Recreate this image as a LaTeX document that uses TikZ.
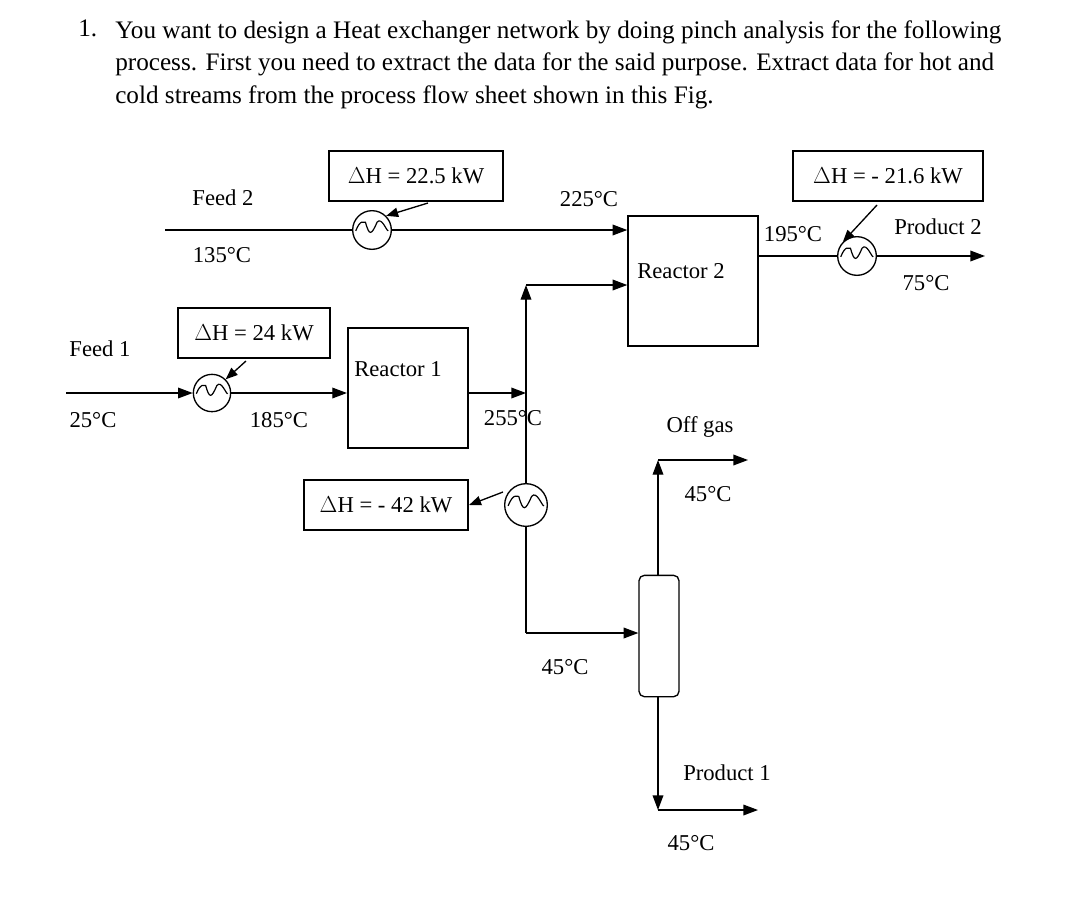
\documentclass[tikz,border=0pt]{standalone}
\usepackage{fontspec}
\setmainfont{Liberation Serif}
\usetikzlibrary{arrows.meta}
\tikzset{
  flow/.style={line width=1pt,-{Triangle[length=11pt,width=8pt]}},
  pipe/.style={line width=1pt},
  duty/.style={draw,line width=1.6pt,minimum width=#1,minimum height=38pt,inner sep=0pt,font=\fontsize{17}{20}\selectfont},
  unit/.style={draw,line width=1.6pt},
  hx/.style={draw,circle,line width=1pt,minimum size=#1,inner sep=0pt,
    path picture={\draw[line width=0.9pt]
      ([xshift=-0.42*#1,yshift=-0.02*#1]path picture bounding box.center)
      .. controls +(0.12*#1,0.3*#1) and +(-0.05*#1,0) .. +(0.25*#1,0.22*#1)
      .. controls +(0.1*#1,-0.35*#1) and +(-0.15*#1,-0.35*#1) .. +(0.55*#1,0.22*#1)
      .. controls +(0.12*#1,0.15*#1) and +(-0.05*#1,0) .. +(0.84*#1,0);}},
  lbl/.style={font=\fontsize{17}{20}\selectfont}
}
\begin{document}
\begin{tikzpicture}[x=0.75pt,y=0.75pt,yscale=-1,xscale=1]
\path (0,0) rectangle (1080,908);

% question text
\node[anchor=north west,inner sep=0pt,font=\fontsize{18.9}{24.5}\selectfont] (num) at (78,20) {1.};
\node[anchor=north west,inner sep=0pt,align=left,font=\fontsize{18.9}{24.5}\selectfont] (question) at (115,20)
  {You want to design a Heat exchanger network by doing pinch analysis for the following\\
   process. First you need to extract the data for the said purpose. Extract data for hot and\\
   cold streams from the process flow sheet shown in this Fig.};

% units
\node[unit,minimum width=97pt,minimum height=97pt] (reactorB) at (693,281) {};
\node[lbl,anchor=north] at (681,259) {Reactor 2};
\node[unit,minimum width=90pt,minimum height=90pt] (reactorA) at (408,388) {};
\node[lbl,anchor=north] at (398,357) {Reactor 1};
\node[draw,line width=1pt,rounded corners=4pt,minimum width=30pt,minimum height=91pt,inner sep=0pt] (column) at (659,636) {};

% heat exchangers
\node[hx=29pt] (hxB) at (372,230) {};
\node[hx=28pt] (hxA) at (212,393) {};
\node[hx=32pt] (hxC) at (526,505) {};
\node[hx=29pt] (hxD) at (857,256) {};

% duty boxes
\node[duty=130pt] (dutyB) at (416,176) {$\Delta$H = 22.5 kW};
\node[duty=114pt] (dutyA) at (254,333) {$\Delta$H = 24 kW};
\node[duty=123pt] (dutyC) at (386,505) {$\Delta$H = - 42 kW};
\node[duty=142pt] (dutyD) at (888,176) {$\Delta$H = - 21.6 kW};

% free ends
\coordinate (feedA) at (66,393);
\coordinate (feedB) at (165,230);
\coordinate (riser) at (526,285);
\coordinate (drop) at (526,633);
\coordinate (gasTop) at (658,460);
\coordinate (gasEnd) at (748,460);
\coordinate (liqBot) at (658,810);
\coordinate (liqEnd) at (758,810);
\coordinate (prodB) at (985,256);
\coordinate (tapB) at (428,203);
\coordinate (tapA) at (246,361);
\coordinate (tapC) at (503,492);
\coordinate (tapD) at (877,205);

% streams
\draw[flow] (feedA) -- (hxA);
\draw[flow] (hxA) -- (reactorA.west |- hxA);
\draw[flow] (reactorA.east |- hxA) -- (riser |- hxA);
\draw[line width=2pt] (feedB) -- (hxB);
\draw[flow] (hxB) -- (reactorB.west |- hxB);
\draw[flow] (hxC) -- (riser);
\draw[flow] (riser) -- (reactorB.west |- riser);
\draw[pipe] (hxC) -- (drop);
\draw[flow] (drop) -- (column.west |- drop);
\draw[flow] (column.north -| gasTop) -- (gasTop);
\draw[flow] (gasTop) -- (gasEnd);
\draw[flow] (column.south -| liqBot) -- (liqBot);
\draw[flow] (liqBot) -- (liqEnd);
\draw[pipe] (reactorB.east |- hxD) -- (hxD);
\draw[flow] (hxD) -- (prodB);

% duty arrows
\draw[flow,-{Triangle[length=9pt,width=7pt]}] (tapB) -- (hxB.north east);
\draw[flow,-{Triangle[length=9pt,width=7pt]}] (tapA) -- (hxA.north east);
\draw[flow,-{Triangle[length=9pt,width=7pt]}] (tapC) -- (dutyC.east);
\draw[flow,-{Triangle[length=9pt,width=7pt]}] (tapD) -- (hxD.north west);

% labels
\node[lbl] at (100,349) {Feed 1};
\node[lbl] at (93,420) {25°C};
\node[lbl] at (279,420) {185°C};
\node[lbl] at (223,198) {Feed 2};
\node[lbl] at (222,255) {135°C};
\node[lbl] at (589,199) {225°C};
\node[lbl] at (513,418) {255°C};
\node[lbl] at (793,234) {195°C};
\node[lbl] at (938,227) {Product 2};
\node[lbl] at (926,283) {75°C};
\node[lbl] at (700,427) {Off gas};
\node[lbl] at (708,494) {45°C};
\node[lbl] at (565,667) {45°C};
\node[lbl] at (727,773) {Product 1};
\node[lbl] at (691,843) {45°C};
\end{tikzpicture}
\end{document}
